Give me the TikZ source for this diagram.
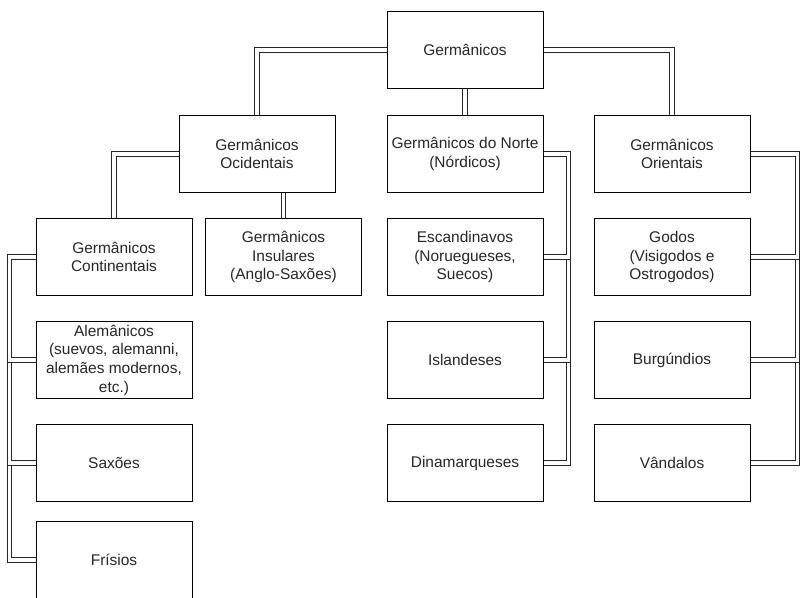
\documentclass[tikz,border=0pt]{standalone}
\usepackage{fontspec}
\setmainfont{Liberation Sans}
\begin{document}
\begin{tikzpicture}[x=0.75pt,y=-0.75pt,
  box/.style={draw=black, line width=0.75pt, minimum width=117pt, minimum height=58pt,
    inner sep=0pt, align=center, font=\fontsize{11.6}{14}\selectfont, text=black!85},
  dbl/.style={draw=black!85, line width=0.7pt, double=white, double distance=2.6pt}]
\useasboundingbox (0,0) rectangle (800,597);
% nodes
\node[box] (G)    at (465,50)  {Germânicos};
\node[box] (Oc)   at (257,154) {Germânicos\\Ocidentais};
\node[box] (No)   at (465,154) {Germânicos do Norte\\(Nórdicos)};
\node[box] (Or)   at (672,154) {Germânicos\\Orientais};
\node[box] (Cont) at (114,257) {Germânicos\\Continentais};
\node[box] (Ins)  at (283.5,257) {Germânicos\\Insulares\\(Anglo-Saxões)};
\node[box] (Esc)  at (465,257) {Escandinavos\\(Noruegueses,\\Suecos)};
\node[box] (God)  at (672,257) {Godos\\(Visigodos e\\Ostrogodos)};
\node[box] (Alem) at (114,360) {Alemânicos\\(suevos, alemanni,\\alemães modernos,\\etc.)};
\node[box] (Isl)  at (465,360) {Islandeses};
\node[box] (Burg) at (672,360) {Burgúndios};
\node[box] (Sax)  at (114,463) {Saxões};
\node[box] (Din)  at (465,463) {Dinamarqueses};
\node[box] (Vand) at (672,463) {Vândalos};
\node[box] (Fris) at (114,560) {Frísios};
% connectors
\draw[dbl] (G.west) -| (Oc.north);
\draw[dbl] (G.east) -| (Or.north);
\draw[dbl] (G.south) -- (No.north);
\draw[dbl] (Oc.west) -| (Cont.north);
\draw[dbl] (Oc.south -| Ins.north) -- (Ins.north);
% Norte bus
\draw[dbl] (No.east) -- ++(25,0) |- (Din.east);
\draw[dbl] (No.east) -- ++(25,0) |- (Isl.east);
\draw[dbl] (No.east) -- ++(25,0) |- (Esc.east);
% Orientais bus
\draw[dbl] (Or.east) -- ++(47,0) |- (Vand.east);
\draw[dbl] (Or.east) -- ++(47,0) |- (Burg.east);
\draw[dbl] (Or.east) -- ++(47,0) |- (God.east);
% Continentais bus
\draw[dbl] (Cont.west) -- ++(-26,0) |- (Fris.west);
\draw[dbl] (Cont.west) -- ++(-26,0) |- (Sax.west);
\draw[dbl] (Cont.west) -- ++(-26,0) |- (Alem.west);
\end{tikzpicture}
\end{document}
